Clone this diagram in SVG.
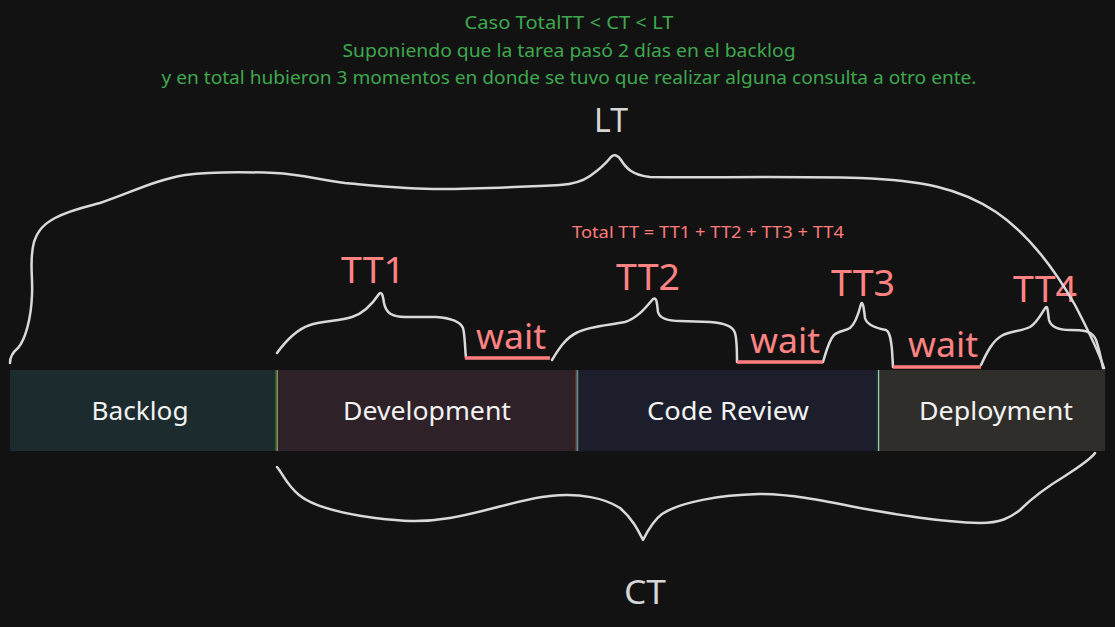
<svg xmlns="http://www.w3.org/2000/svg" width="1115" height="627" viewBox="0 0 1115 627">
<style>
.title{font-family:"Noto Sans","Liberation Sans",sans-serif;font-size:18px;fill:#3fa84f;text-anchor:middle}
.big{font-family:"Noto Sans","Liberation Sans",sans-serif;font-size:33px;fill:#d6d6d6;text-anchor:middle}
.tt{font-family:"Noto Sans","Liberation Sans",sans-serif;font-size:36px;fill:#ff8383;text-anchor:middle}
.wait{font-family:"Noto Sans","Liberation Sans",sans-serif;font-size:34px;fill:#ff8383;text-anchor:middle}
.sum{font-family:"Noto Sans","Liberation Sans",sans-serif;font-size:16px;fill:#ff7b7b;text-anchor:middle}
.lbl{font-family:"Noto Sans","Liberation Sans",sans-serif;font-size:26px;fill:#f2f2f2;text-anchor:middle}
.brace{fill:none;stroke:#d9d9d9;stroke-width:2.5;stroke-linecap:round;stroke-linejoin:round}
.under{fill:none;stroke:#ff7f7f;stroke-width:3.5;stroke-linecap:butt}
</style>
<rect x="0" y="0" width="1115" height="627" fill="#121212"/>

<g id="title">
<text class="title" x="569" y="29" textLength="209" lengthAdjust="spacingAndGlyphs">Caso TotalTT &lt; CT &lt; LT</text>
<text class="title" x="569" y="57" textLength="453" lengthAdjust="spacingAndGlyphs">Suponiendo que la tarea pasó 2 días en el backlog</text>
<text class="title" x="569" y="84" textLength="815" lengthAdjust="spacingAndGlyphs">y en total hubieron 3 momentos en donde se tuvo que realizar alguna consulta a otro ente.</text>
</g>

<g id="backlog">
<rect x="10" y="370" width="266" height="81" fill="#1c2b2d"/>
<rect x="275" y="370" width="1.5" height="81" fill="#2d5c35"/>
<rect x="276.5" y="370" width="1.5" height="81" fill="#8d9352"/>
<text class="lbl" x="140" y="420" textLength="97" lengthAdjust="spacingAndGlyphs">Backlog</text>
</g>
<g id="development">
<rect x="278" y="370" width="299" height="81" fill="#2e2128"/>
<rect x="575" y="370" width="1.5" height="81" fill="#5a3420"/>
<rect x="576.5" y="370" width="2" height="81" fill="#6a8c8c"/>
<text class="lbl" x="427" y="420" textLength="168" lengthAdjust="spacingAndGlyphs">Development</text>
</g>
<g id="code-review">
<rect x="578.5" y="370" width="300" height="81" fill="#1c1f2b"/>
<rect x="876.5" y="370" width="1.5" height="81" fill="#123848"/>
<rect x="878" y="370" width="1.5" height="81" fill="#a9c8a0"/>
<text class="lbl" x="728" y="420" textLength="162" lengthAdjust="spacingAndGlyphs">Code Review</text>
</g>
<g id="deployment">
<rect x="879.5" y="370" width="225.5" height="81" fill="#2f2e2a"/>
<text class="lbl" x="996" y="420" textLength="154" lengthAdjust="spacingAndGlyphs">Deployment</text>
</g>

<g id="labels">
<text class="big" x="611" y="132" textLength="34" lengthAdjust="spacingAndGlyphs">LT</text>
<text class="big" x="645" y="604" textLength="42" lengthAdjust="spacingAndGlyphs">CT</text>
<text class="sum" x="708" y="238" textLength="272" lengthAdjust="spacingAndGlyphs">Total TT = TT1 + TT2 + TT3 + TT4</text>
<text class="tt" x="373" y="283" textLength="64" lengthAdjust="spacingAndGlyphs">TT1</text>
<text class="tt" x="648" y="290" textLength="64" lengthAdjust="spacingAndGlyphs">TT2</text>
<text class="tt" x="863" y="296" textLength="64" lengthAdjust="spacingAndGlyphs">TT3</text>
<text class="tt" x="1045" y="302" textLength="64" lengthAdjust="spacingAndGlyphs">TT4</text>
<text class="wait" x="511" y="349" textLength="70" lengthAdjust="spacingAndGlyphs">wait</text>
<text class="wait" x="785" y="353" textLength="70" lengthAdjust="spacingAndGlyphs">wait</text>
<text class="wait" x="943" y="357" textLength="70" lengthAdjust="spacingAndGlyphs">wait</text>
</g>

<g id="connectors">
<path class="brace" d="M10,363 C10,357 13,352 18,348 C25,340 31,320 32,295 C33,275 29,260 34,242 C38,230 44,224 55,218 C70,210 85,207 100,203 C130,193 155,180 185,175 C215,171 250,172 275,173 C300,174 320,180 345,183 C380,186 410,189 440,189 C480,189 520,187 560,185 C575,184 583,181 590,176 C600,169 607,162 611,157 C614,154 618,155 621,160 C626,168 632,175 650,177 C700,178 780,176 860,178 C920,180 960,188 996,212 C1030,235 1055,270 1075,305 C1088,330 1098,350 1104,368"/>
<path class="brace" d="M277,353 C285,342 295,330 310,325 C320,321 340,321 352,317 C365,313 373,303 379,294 C382,291 383,296 384,303 C386,313 392,317 405,317 L436,317 C450,318 460,321 463,328 C465,335 465,350 466,358"/>
<path class="brace" d="M552,360 C558,350 565,338 578,332 C590,326 610,325 625,322 C638,318 647,306 653,299 C657,296 657,305 658,312 C660,319 668,321 680,321 L710,322 C725,323 733,326 735,333 C737,340 737,355 737,362"/>
<path class="brace" d="M823,362 C826,352 829,340 834,335 C838,331 845,331 850,328 C855,324 859,312 861,304 C863,300 864,310 865,318 C867,325 875,328 886,330 C890,332 891,340 892,350 L893,367"/>
<path class="brace" d="M981,365 C987,352 993,340 1003,335 C1012,331 1022,331 1030,327 C1038,322 1042,312 1046,307 C1048,306 1048,315 1049,320 C1051,327 1058,330 1070,330 C1082,330 1092,330 1096,340 C1099,348 1101,358 1103,368"/>
<path class="brace" d="M277,467 C283,474 286,484 299,495 C315,508 345,514 375,518 C400,521 420,523 450,518 C490,511 520,499 550,496 C580,493 605,498 620,508 C632,518 638,530 643,540 C648,530 654,520 662,514 C680,502 720,495 759,494 C790,494 820,500 860,508 C900,515 940,522 980,523 C1000,523 1010,518 1020,510 C1035,495 1050,485 1065,476 C1080,466 1090,460 1095,453"/>
<path class="under" d="M465,358 L550,358"/>
<path class="under" d="M737,362 L823,362"/>
<path class="under" d="M893,367 L981,367"/>
</g>
</svg>
